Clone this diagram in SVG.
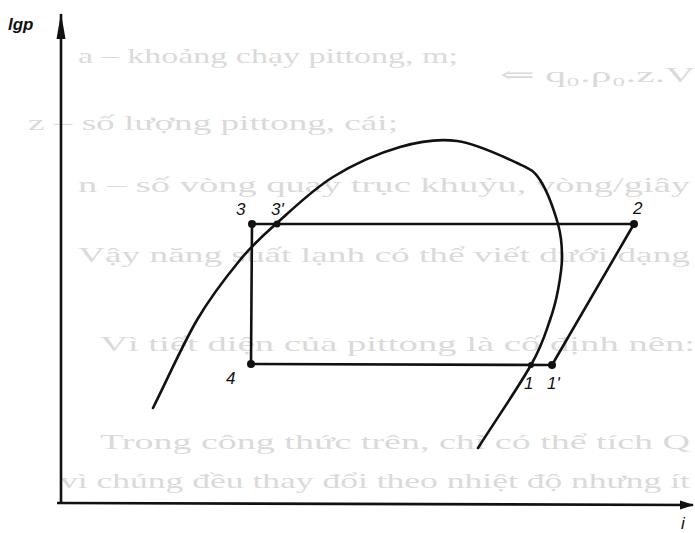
<svg xmlns="http://www.w3.org/2000/svg" width="695" height="533" viewBox="0 0 695 533">
<defs>
<style>
.bg{font-family:"Liberation Serif","DejaVu Serif",serif;font-size:21px;fill:#dadada}
.ln{fill:none;stroke:#111;stroke-width:2.6;stroke-linecap:round;stroke-linejoin:round}
.ax{fill:none;stroke:#111;stroke-width:2.6}
.lb{font-family:"Liberation Sans","DejaVu Sans",sans-serif;font-style:italic;font-size:17px;fill:#111}
.dot{fill:#111}
</style>
<marker id="ah" markerWidth="14" markerHeight="10" refX="13" refY="5" orient="auto" markerUnits="userSpaceOnUse">
<path d="M0,0.5 L14,5 L0,9.5 Z" fill="#111"/>
</marker>
<marker id="ahv" markerWidth="26" markerHeight="11" refX="25" refY="5.5" orient="auto" markerUnits="userSpaceOnUse">
<path d="M0,1 L26,5.5 L0,10 Z" fill="#111"/>
</marker>
</defs>
<rect width="695" height="533" fill="#ffffff"/>
<g id="background-text">
<text class="bg" x="78" y="63" textLength="380" lengthAdjust="spacingAndGlyphs">a – khoảng chạy pittong, m;</text>
<text class="bg" x="500" y="82" textLength="195" lengthAdjust="spacingAndGlyphs">⇐ q₀.ρ₀.z.V</text>
<text class="bg" x="28" y="130" textLength="370" lengthAdjust="spacingAndGlyphs">z – số lượng pittong, cái;</text>
<text class="bg" x="78" y="192" textLength="612" lengthAdjust="spacingAndGlyphs">n – số vòng quay trục khuỷu, vòng/giây</text>
<text class="bg" x="78" y="262" textLength="612" lengthAdjust="spacingAndGlyphs">Vậy năng suất lạnh có thể viết dưới dạng</text>
<text class="bg" x="100" y="351" textLength="595" lengthAdjust="spacingAndGlyphs">Vì tiết diện của pittong là cố định nên:</text>
<text class="bg" x="100" y="449" textLength="590" lengthAdjust="spacingAndGlyphs">Trong công thức trên, chỉ có thể tích Q</text>
<text class="bg" x="60" y="488" textLength="630" lengthAdjust="spacingAndGlyphs">vì chúng đều thay đổi theo nhiệt độ nhưng ít</text>
</g>
<g id="axes">
<line class="ax" x1="61" y1="504" x2="61" y2="14" marker-end="url(#ahv)"/>
<line class="ax" x1="57" y1="503" x2="693" y2="505" marker-end="url(#ah)"/>
<text class="lb" x="8" y="30" font-size="16" font-weight="bold">lgp</text>
<text class="lb" x="681" y="529">i</text>
</g>
<g id="saturation-curve">
<path class="ln" d="M153,408 C167.7,378.7 182.5,344.7 197,320 C211.5,295.3 226.7,276.2 240,260 C253.3,243.8 261.5,236.8 277,223 C292.5,209.2 312.5,189.7 333,177 C353.5,164.3 379.3,153 400,147 C420.7,141 437.5,138.3 457,141 C476.5,143.7 503.2,156.5 517,163 C530.8,169.5 533.2,169.8 540,180 C546.8,190.2 554.3,211.2 558,224 C561.7,236.8 562,246 562,257 C562,268 560,279.5 558,290 C556,300.5 554.5,307.5 550,320 C545.5,332.5 543,343.7 531,365 C519,386.3 495.7,420.3 478,448"/>
</g>
<g id="connectors">
<line class="ln" x1="252" y1="224" x2="634" y2="224"/>
<line class="ln" x1="252" y1="224" x2="251" y2="364"/>
<line class="ln" x1="251" y1="364" x2="552" y2="365"/>
<line class="ln" x1="634" y1="224" x2="552" y2="365"/>
</g>
<g id="node-3">
<circle class="dot" cx="252" cy="224" r="4"/>
<text class="lb" x="236" y="215">3</text>
</g>
<g id="node-3p">
<circle class="dot" cx="277" cy="224" r="3.5"/>
<text class="lb" x="271" y="215">3'</text>
</g>
<g id="node-2">
<circle class="dot" cx="634" cy="224" r="4"/>
<text class="lb" x="633" y="214">2</text>
</g>
<g id="node-4">
<circle class="dot" cx="251" cy="364" r="4"/>
<text class="lb" x="226" y="384">4</text>
</g>
<g id="node-1">
<circle class="dot" cx="531" cy="365" r="3"/>
<text class="lb" x="524" y="389">1</text>
</g>
<g id="node-1p">
<circle class="dot" cx="552" cy="365" r="4"/>
<text class="lb" x="547" y="389">1'</text>
</g>
</svg>
